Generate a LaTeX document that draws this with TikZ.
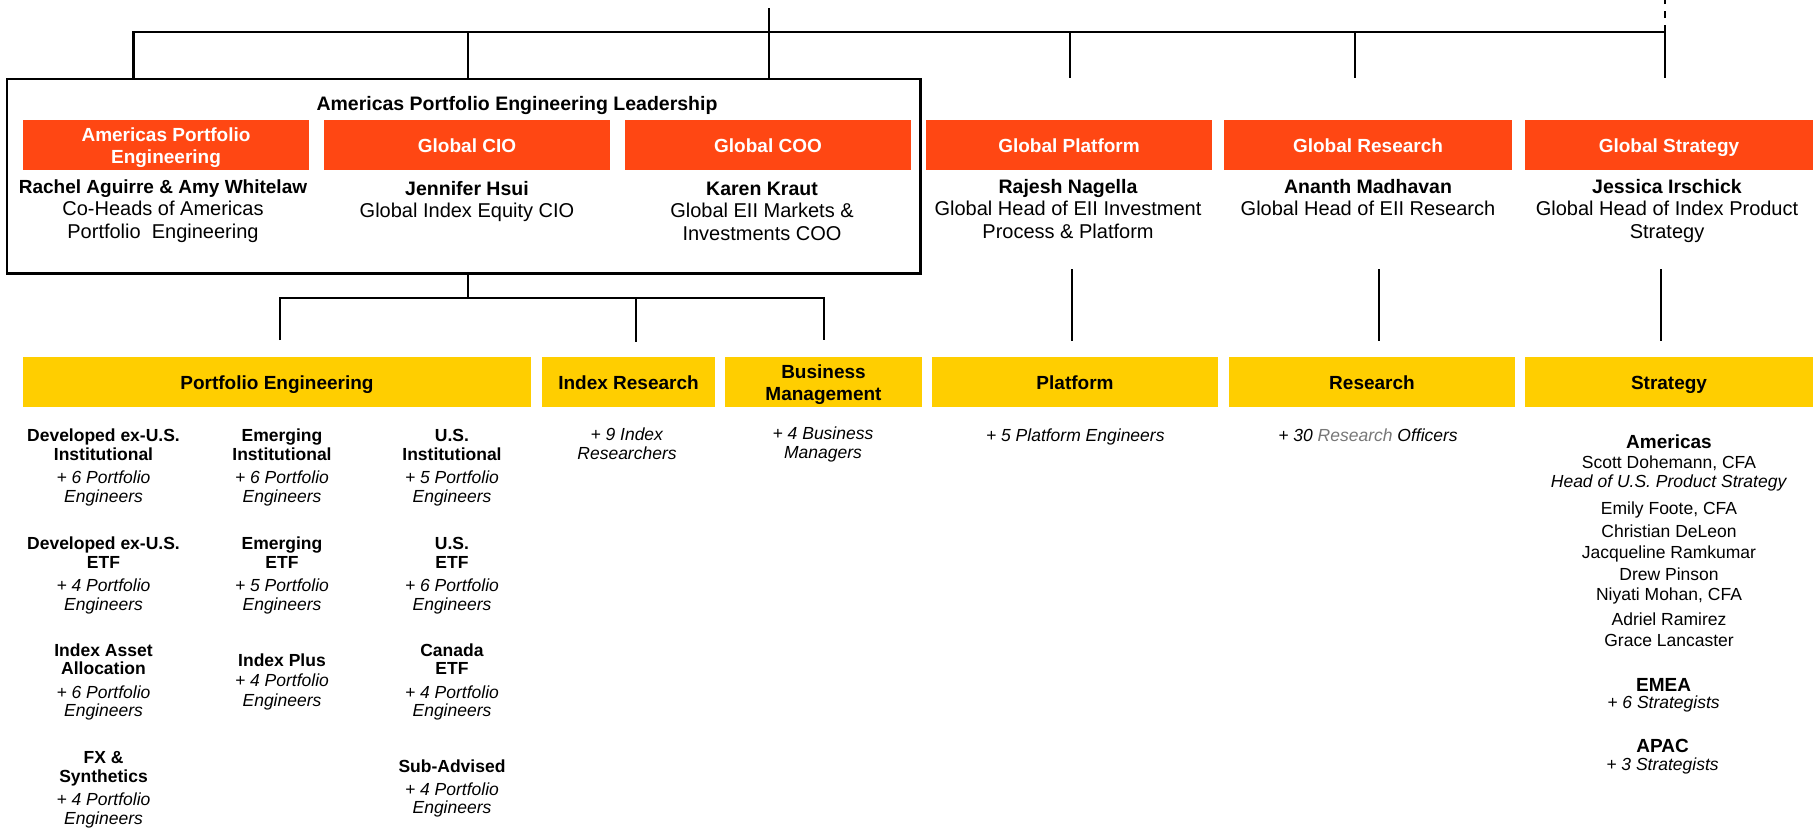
\documentclass[tikz,border=0pt]{standalone}
\usepackage{fontspec}
\setmainfont{Liberation Sans}
\definecolor{hdorange}{HTML}{FF4713}
\definecolor{hdyellow}{HTML}{FFCE00}
\definecolor{midgrey}{HTML}{777777}
% centred stack of lines whose baseline is the first line's baseline
\newcommand\txtstack[1]{\begin{tabular}[t]{@{}c@{}}#1\end{tabular}}
% taller first line, so a two-line label sits a little lower in its bar
\newcommand\tallfirst{\rule{0pt}{18.9pt}}
\begin{document}
\begin{tikzpicture}[x=1pt,y=-1pt,
  conn/.style={line width=2.2pt},
  headbox/.style={rectangle, inner sep=0pt, minimum height=50pt,
    font=\fontsize{19}{22}\selectfont\bfseries, align=center},
  orangebox/.style={headbox, fill=hdorange, text=white},
  yellowbox/.style={headbox, fill=hdyellow, text=black},
  oneline/.style={text height=15pt, text depth=0pt},
  person/.style={anchor=base, inner sep=0pt, font=\fontsize{20}{22.5}\selectfont},
  unit/.style={anchor=base, inner sep=0pt, font=\fontsize{17.5}{18.8}\selectfont},
]
\useasboundingbox (0,0) rectangle (1819,828);

% ---------- leadership frame ----------
\node[draw, line width=2.2pt, inner sep=0pt, minimum width=913.5pt,
      minimum height=194.5pt] (lead) at (463.75,176.25) {};
\node[anchor=base, inner sep=0pt, font=\fontsize{19.5}{22}\selectfont\bfseries]
  (leadtitle) at (517,110) {Americas Portfolio Engineering Leadership};

% ---------- orange heads ----------
\node[orangebox, minimum width=286pt] (oAPE) at (166,145) {\tallfirst Americas Portfolio\\Engineering};
\node[orangebox, oneline, minimum width=286pt] (oCIO) at (467,145) {Global CIO};
\node[orangebox, oneline, minimum width=286pt] (oCOO) at (768,145) {Global COO};
\node[orangebox, oneline, minimum width=286pt] (oPlat) at (1069,145) {Global Platform};
\node[orangebox, oneline, minimum width=288pt] (oRes) at (1368,145) {Global Research};
\node[orangebox, oneline, minimum width=288pt] (oStr) at (1669,145) {Global Strategy};

% ---------- people under the heads ----------
\node[person] (pAPE) at (163,193) {\txtstack{{\fontsize{19}{22.5}\selectfont\bfseries Rachel Aguirre \& Amy Whitelaw}\\Co-Heads of Americas\\Portfolio~ Engineering}};
\node[person] (pCIO) at (467,195) {\txtstack{{\fontsize{19.5}{22.5}\selectfont\bfseries Jennifer Hsui}\\Global Index Equity CIO}};
\node[person] (pCOO) at (762,195) {\txtstack{{\fontsize{19.5}{22.5}\selectfont\bfseries Karen Kraut}\\Global EII Markets \&\\Investments COO}};
\node[person] (pPlat) at (1068,193) {\txtstack{{\fontsize{19.5}{22.5}\selectfont\bfseries Rajesh Nagella}\\Global Head of EII Investment\\Process \& Platform}};
\node[person] (pRes) at (1368,193) {\txtstack{{\fontsize{19.5}{22.5}\selectfont\bfseries Ananth Madhavan}\\Global Head of EII Research}};
\node[person] (pStr) at (1667,193) {\txtstack{{\fontsize{19.5}{22.5}\selectfont\bfseries Jessica Irschick}\\Global Head of Index Product\\Strategy}};

% ---------- yellow team bars ----------
\node[yellowbox, oneline, minimum width=508pt] (yPE) at (277,382) {Portfolio Engineering};
\node[yellowbox, oneline, minimum width=173pt] (yIR) at (628.5,382) {Index Research};
\node[yellowbox, minimum width=197pt] (yBM) at (823.5,382) {\tallfirst Business\\Management};
\node[yellowbox, oneline, minimum width=286pt] (yPlat) at (1075,382) {Platform};
\node[yellowbox, oneline, minimum width=286pt] (yRes) at (1372,382) {Research};
\node[yellowbox, oneline, minimum width=288pt] (yStr) at (1669,382) {Strategy};

% ---------- top connectors ----------
\coordinate (root) at (769,8);
\coordinate (busL) at (133.5,32);
\coordinate (busR) at (1665,32);
\coordinate (dashTop) at (1665,0);
\coordinate (jCIO) at (468,32);
\coordinate (jCOO) at (769,32);
\coordinate (jPlat) at (1070,32);
\coordinate (jRes) at (1355,32);
\coordinate (ePlat) at (1070,78);
\coordinate (eRes) at (1355,78);
\coordinate (eStr) at (1665,78);

\draw[conn] (root) -- (jCOO);
\draw[conn] (lead.north -| busL) -- (busL) -- (busR) -- (eStr);
\draw[conn, dash pattern=on 7pt off 7pt] (busR) -- (dashTop);
\draw[conn] (jCIO) -- (jCIO |- lead.north);
\draw[conn] (jCOO) -- (jCOO |- lead.north);
\draw[conn] (jPlat) -- (ePlat);
\draw[conn] (jRes) -- (eRes);

% ---------- connectors below the leadership frame ----------
\coordinate (sub) at (468,298);
\coordinate (dPE) at (280,340);
\coordinate (dIR) at (636,342);
\coordinate (dBM) at (824,340);
\draw[conn] (lead.south -| sub) -- (sub);
\draw[conn] (dPE) -- (dPE |- sub) -- (dBM |- sub) -- (dBM);
\draw[conn] (dIR |- sub) -- (dIR);

\coordinate (sPlatT) at (1072,269);
\coordinate (sPlatB) at (1072,341);
\coordinate (sResT) at (1379,269);
\coordinate (sResB) at (1379,341);
\coordinate (sStrT) at (1661,269);
\coordinate (sStrB) at (1661,341);
\draw[conn] (sPlatT) -- (sPlatB);
\draw[conn] (sResT) -- (sResB);
\draw[conn] (sStrT) -- (sStrB);

% ---------- portfolio engineering teams ----------
\node[unit] (t11) at (103.5,441.7) {\txtstack{\textbf{Developed ex-U.S.}\\\textbf{Institutional}\\[4.4pt]\textit{+ 6 Portfolio}\\\textit{Engineers}}};
\node[unit] (t12) at (103.5,549.3) {\txtstack{\textbf{Developed ex-U.S.}\\\textbf{ETF}\\[4.4pt]\textit{+ 4 Portfolio}\\\textit{Engineers}}};
\node[unit] (t13) at (103.5,656) {\txtstack{\textbf{Index Asset}\\\textbf{Allocation}\\[4.4pt]\textit{+ 6 Portfolio}\\\textit{Engineers}}};
\node[unit] (t14) at (103.5,763.3) {\txtstack{\textbf{FX \&}\\\textbf{Synthetics}\\[4.4pt]\textit{+ 4 Portfolio}\\\textit{Engineers}}};

\node[unit] (t21) at (282,441.7) {\txtstack{\textbf{Emerging}\\\textbf{Institutional}\\[4.4pt]\textit{+ 6 Portfolio}\\\textit{Engineers}}};
\node[unit] (t22) at (282,549.3) {\txtstack{\textbf{Emerging}\\\textbf{ETF}\\[4.4pt]\textit{+ 5 Portfolio}\\\textit{Engineers}}};
\node[unit] (t23) at (282,666) {\txtstack{\textbf{Index Plus}\\[1.9pt]\textit{+ 4 Portfolio}\\[1.2pt]\textit{Engineers}}};

\node[unit] (t31) at (452,441.7) {\txtstack{\textbf{U.S.}\\\textbf{Institutional}\\[4.4pt]\textit{+ 5 Portfolio}\\\textit{Engineers}}};
\node[unit] (t32) at (452,549.3) {\txtstack{\textbf{U.S.}\\\textbf{ETF}\\[4.4pt]\textit{+ 6 Portfolio}\\\textit{Engineers}}};
\node[unit] (t33) at (452,656) {\txtstack{\textbf{Canada}\\\textbf{ETF}\\[4.4pt]\textit{+ 4 Portfolio}\\\textit{Engineers}}};
\node[unit] (t34) at (452,772.7) {\txtstack{\textbf{Sub-Advised}\\[3.5pt]\textit{+ 4 Portfolio}\\\textit{Engineers}}};

% ---------- other teams ----------
\node[unit] (tIR) at (627,440) {\txtstack{\textit{+ 9 Index}\\[0.5pt]\textit{Researchers}}};
\node[unit] (tBM) at (823,439) {\txtstack{\textit{+ 4 Business}\\[0.5pt]\textit{Managers}}};
\node[unit] (tPlat) at (1075.3,441.7) {\textit{+ 5 Platform Engineers}};
\node[unit] (tRes) at (1368,441.7) {\textit{+ 30 {\color{midgrey}Research} Officers}};

% ---------- strategy regions ----------
\node[unit, font=\fontsize{17.5}{21.5}\selectfont] (tAm) at (1669,448.3) {\txtstack{%
  {\fontsize{19}{21.5}\selectfont\bfseries Americas}\\[-1.5pt]
  Scott Dohemann, CFA\\[-2.5pt]
  \textit{Head of U.S. Product Strategy}\\[5.2pt]
  Emily Foote, CFA\\[1.5pt]
  Christian DeLeon\\[-0.2pt]
  Jacqueline Ramkumar\\[0.2pt]
  Drew Pinson\\[-0.8pt]
  Niyati Mohan, CFA\\[2.8pt]
  Adriel Ramirez\\[-0.5pt]
  Grace Lancaster}};
\node[unit] (tEMEA) at (1663.5,691) {\txtstack{{\fontsize{19}{18.8}\selectfont\bfseries EMEA}\\[-1.5pt]\textit{+ 6 Strategists}}};
\node[unit] (tAPAC) at (1662.5,752.3) {\txtstack{{\fontsize{19}{18.8}\selectfont\bfseries APAC}\\[-1.1pt]\textit{+ 3 Strategists}}};
\end{tikzpicture}
\end{document}
